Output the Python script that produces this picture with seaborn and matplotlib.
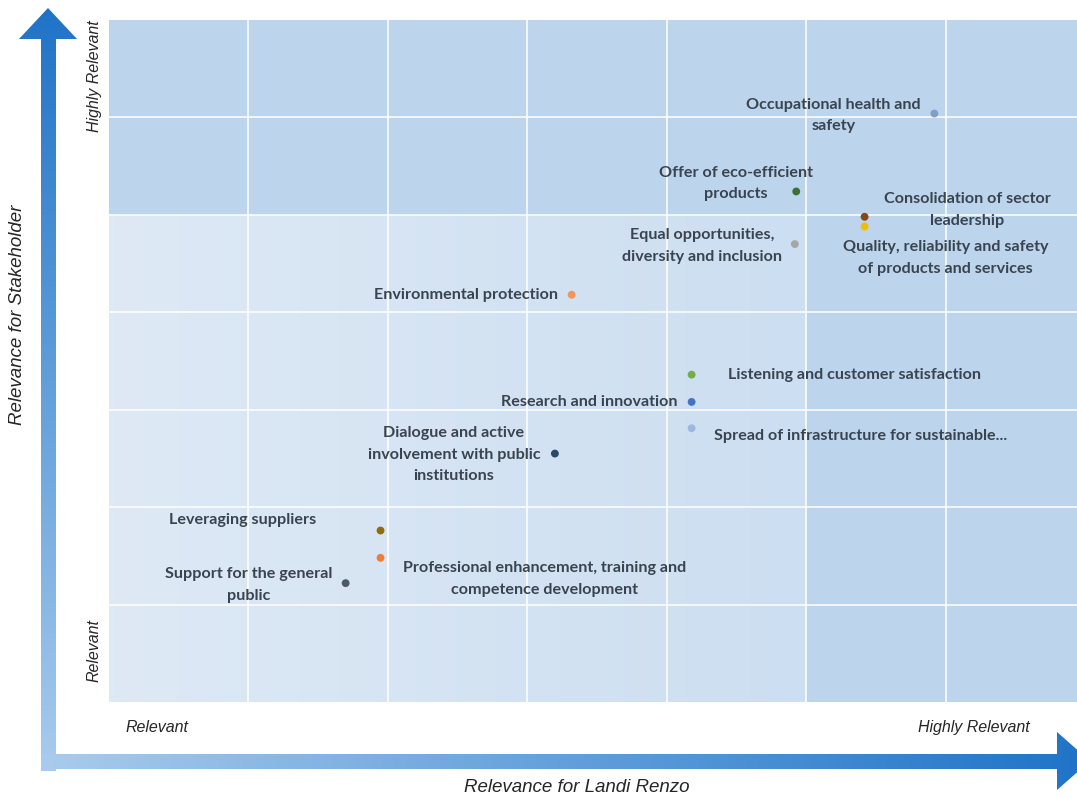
import numpy as np
import pandas as pd
import matplotlib
matplotlib.use("Agg")
import matplotlib.pyplot as plt
from matplotlib.patches import Polygon
import seaborn as sns

# Material topics: position on the two relevance scales
topics = [
    "Occupational health and\nsafety",
    "Offer of eco-efficient\nproducts",
    "Consolidation of sector\nleadership",
    "Quality, reliability and safety\nof products and services",
    "Equal opportunities,\ndiversity and inclusion",
    "Environmental protection",
    "Listening and customer satisfaction",
    "Research and innovation",
    "Spread of infrastructure for sustainable...",
    "Dialogue and active\ninvolvement with public\ninstitutions",
    "Leveraging suppliers",
    "Professional enhancement, training and\ncompetence development",
    "Support for the general\npublic",
]
relevance_company = [5.92, 4.93, 5.42, 5.42, 4.92, 3.32, 4.18, 4.18, 4.18, 3.20, 1.95, 1.95, 1.70]
relevance_stakeholder = [6.04, 5.24, 4.98, 4.88, 4.70, 4.18, 3.36, 3.08, 2.81, 2.55, 1.76, 1.48, 1.22]
point_colors = ["#7f9fc9", "#3f6e36", "#8a4611", "#f2bf00", "#a6a6a6", "#f2955d",
                "#72ae4a", "#4472c4", "#9db8df", "#2c4a66", "#8f6d0c", "#ee7e35", "#4f5965"]

# label offsets from each point, in pixels (centre of the text block)
label_offsets = [(-101, -2), (-60, 8), (103, 7), (81, -31), (-93, -2), (-106, 0),
                 (163, 0), (-102, 0), (169, -8), (-101, -1), (-138, 11), (164, -21), (-97, -2)]

x_axis_title = "Relevance for Landi Renzo"
y_axis_title = "Relevance for Stakeholder"
scale_labels = ["Relevant", "Highly Relevant"]

df = pd.DataFrame({"topic": topics, "x": relevance_company, "y": relevance_stakeholder})

W, H = 1077, 798
fig = plt.figure(figsize=(W / 100, H / 100), dpi=100)
fig.patch.set_facecolor("white")

left_px, top_px, bottom_px, cell_w, cell_h = 108.5, 20, 702, 139.5, 97.4
x_max = (W - left_px) / cell_w
ax = fig.add_axes([left_px / W, (H - bottom_px) / H, (W - left_px) / W, (bottom_px - top_px) / H])
ax.set_xlim(0, x_max)
ax.set_ylim(0, 7)

# background shading: darker for the highly relevant bands, soft gradient elsewhere
nx, ny = 700, 500
gx = np.linspace(0, x_max, nx)
gy = np.linspace(7, 0, ny)
XX, YY = np.meshgrid(gx, gy)
light = np.array([0.870, 0.914, 0.961])
mid = np.array([0.800, 0.871, 0.945])
dark = np.array([0.741, 0.839, 0.933])
t = np.clip(XX / 5.0, 0, 1)[..., None]
img = light * (1 - t) + mid * t
band = ((XX >= 5) | (YY >= 5))[..., None]
img = np.where(band, dark, img)
ax.imshow(img, extent=(0, x_max, 0, 7), aspect="auto", zorder=0, interpolation="bilinear")

for s in ax.spines.values():
    s.set_visible(False)

ax.set_xticks(np.arange(1, 7))
ax.set_yticks(np.arange(1, 7))
ax.set_xticklabels([])
ax.set_yticklabels([])
ax.tick_params(which="major", length=0)
ax.grid(True, color="white", linewidth=1.3, alpha=0.85, zorder=1)
ax.set_axisbelow(False)

# scale end labels
ax.set_xticks([0.35, 6.2], minor=True)
ax.set_xticklabels(scale_labels, minor=True, fontstyle="italic", fontsize=11.5,
                   family="Liberation Sans", color="#262626")
ax.set_yticks([0.53, 6.42], minor=True)
ax.set_yticklabels(scale_labels, minor=True, rotation=90, va="center", fontstyle="italic",
                   fontsize=11.5, family="Liberation Sans", color="#262626")
ax.tick_params(which="minor", length=0)
ax.tick_params(axis="x", which="minor", pad=13)
ax.tick_params(axis="y", which="minor", pad=5)

sns.scatterplot(data=df, x="x", y="y", hue="topic", palette=dict(zip(topics, point_colors)),
                s=32, edgecolor="none", legend=False, ax=ax, zorder=3)
ax.set_xlabel("")
ax.set_ylabel("")

for name, px, py, (dx, dy) in zip(topics, relevance_company, relevance_stakeholder, label_offsets):
    ax.annotate(name, (px, py), xytext=(dx, dy), textcoords="offset pixels",
                ha="center", va="center", multialignment="center",
                fontsize=11.6, fontweight="bold", family="Lato", color="#3a4450",
                linespacing=1.72, zorder=4)

# arrows along the axes, in figure pixel space
ov = fig.add_axes([0, 0, 1, 1], zorder=5)
ov.set_xlim(0, W)
ov.set_ylim(H, 0)
ov.axis("off")
ov.patch.set_alpha(0)

c_light = np.array([0.66, 0.80, 0.93])
c_dark = np.array([0.12, 0.45, 0.78])

v_arrow = Polygon([(41, 771), (41, 39), (19, 39), (48, 8), (77, 39), (56, 39), (56, 771)],
                  closed=True, facecolor="none", edgecolor="none")
ov.add_patch(v_arrow)
vt = np.linspace(0, 1, 300)[:, None, None]
vgrad = c_light * vt + c_dark * (1 - vt)
vgrad = np.repeat(vgrad, 2, axis=1)
im_v = ov.imshow(vgrad, extent=(15, 80, 775, 5), aspect="auto", interpolation="bilinear")
im_v.set_clip_path(v_arrow)

h_arrow = Polygon([(41, 754), (1057, 754), (1057, 732), (1090, 761), (1057, 790),
                   (1057, 769), (41, 769)],
                  closed=True, facecolor="none", edgecolor="none")
ov.add_patch(h_arrow)
ht = np.linspace(0, 1, 400)[None, :, None]
hgrad = c_light * (1 - ht) + c_dark * ht
hgrad = np.repeat(hgrad, 2, axis=0)
im_h = ov.imshow(hgrad, extent=(41, 1090, 795, 728), aspect="auto", interpolation="bilinear")
im_h.set_clip_path(h_arrow)
ov.set_xlim(0, W)
ov.set_ylim(H, 0)

fig.text(18 / W, 1 - 315 / H, y_axis_title, rotation=90, ha="center", va="center",
         fontsize=13.5, fontstyle="italic", family="Liberation Sans", color="#262626")
fig.text(577 / W, 1 - 788 / H, x_axis_title, ha="center", va="center",
         fontsize=13.5, fontstyle="italic", family="Liberation Sans", color="#262626")

fig.savefig("out.png", dpi=100, facecolor="white")
